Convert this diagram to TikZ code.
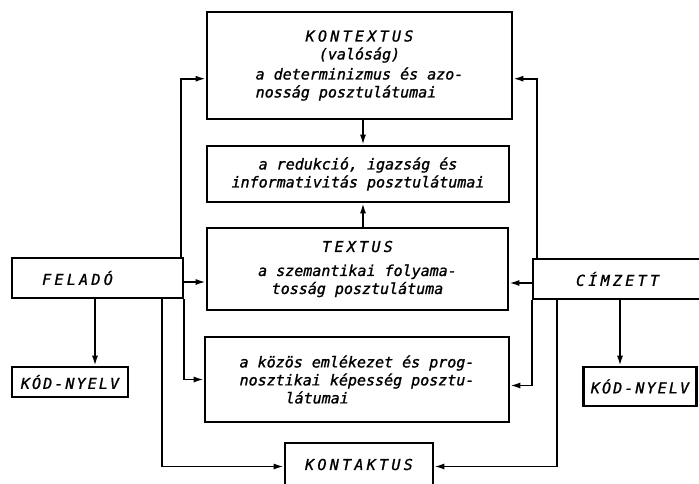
\documentclass[tikz,border=0pt]{standalone}
\usepackage{fontspec}
\newfontfamily\lett{DejaVu Sans Mono}[FakeBold=1.2]
\newfontfamily\lettcaps{DejaVu Sans Mono}[LetterSpace=22,FakeBold=1.2]
\newfontfamily\lettmid{DejaVu Sans Mono}[LetterSpace=14,FakeBold=1.2]
\usetikzlibrary{arrows.meta}
\begin{document}
\begin{tikzpicture}[x=1pt,y=-1pt,
  box/.style={draw,line width=2.6pt,inner sep=0pt,align=center,
    font=\lett\itshape\fontsize{15}{18}\selectfont},
  capsbox/.style={box,font=\lettcaps\itshape\fontsize{15}{18}\selectfont},
  midbox/.style={box,font=\lettmid\itshape\fontsize{15}{18}\selectfont},
  conn/.style={line width=1.7pt},
  arr/.style={conn,-{Latex[length=10pt,width=6pt]}}]
\clip (0,0) rectangle (699,483);
% central column
\node[box,minimum width=305,minimum height=107] (kon) at (359.5,65.5)
  {{\lettcaps KONTEXTUS}\\(valóság)\\[2pt]a determinizmus és azo-\\nosság posztulátumai\hspace*{27pt}};
\node[box,minimum width=302,minimum height=56] (red) at (358,174)
  {a redukció, igazság és\\informativitás posztulátumai};
\node[box,minimum width=301,minimum height=82] (tex) at (357.5,269)
  {{\lettcaps TEXTUS}\\[6pt]a szemantikai folyama-\\tosság posztulátuma};
\node[box,align=left,minimum width=304,minimum height=85] (koz) at (357,379.5)
  {a közös emlékezet és prog-\\nosztikai képesség posztu-\\ \hspace*{46pt}látumai};
\node[capsbox,minimum width=148,minimum height=43] (kta) at (359,464.5) {KONTAKTUS};
% sides
\node[capsbox,minimum width=171,minimum height=40] (fel) at (97.5,278) {FELADÓ\hspace*{40pt}};
\node[midbox,minimum width=116,minimum height=30] (kl) at (70,382) {KÓD-NYELV};
\node[capsbox,minimum width=169,minimum height=40] (cim) at (617.5,279) {CÍMZETT};
\node[midbox,minimum width=113,minimum height=39] (kr) at (640,386.5) {KÓD-NYELV};
% connectors
\draw[arr] (363,0 |- kon.south) -- (363,0 |- red.north);
\draw[arr] (363,0 |- tex.north) -- (363,0 |- red.south);
\draw[arr] ([xshift=-3pt]fel.north east) |- ([yshift=-68pt]kon.north west);
\draw[arr] ([xshift=5pt]cim.north west) |- ([yshift=-68pt]kon.north east);
\draw[arr] ([yshift=-4pt]fel.east) -- ([yshift=-4pt]fel.east -| tex.west);
\draw[arr] ([yshift=-4pt]cim.west) -- ([yshift=-4pt]cim.west -| tex.east);
\draw[arr] (fel.south east) |- (koz.west);
\draw[arr] (cim.south west) |- ([yshift=-6pt]koz.east);
\draw[arr] ([xshift=-22pt]fel.south east) |- ([yshift=-2pt]kta.west);
\draw[arr] ([xshift=25pt]cim.south west) |- ([yshift=-2pt]kta.east);
\draw[arr] (95,0 |- fel.south) -- (95,0 |- kl.north);
\draw[arr] (620,0 |- cim.south) -- (620,0 |- kr.north);
\end{tikzpicture}
\end{document}
